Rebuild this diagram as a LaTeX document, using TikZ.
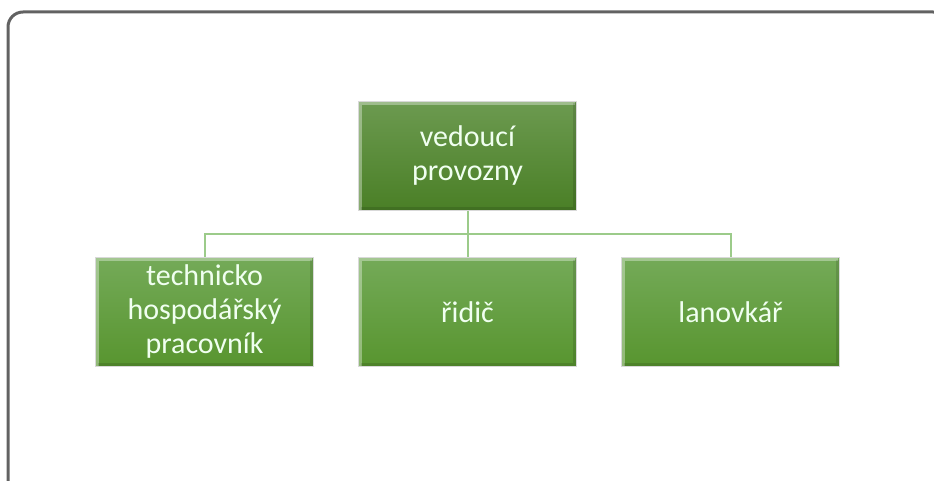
\documentclass[tikz,border=0pt]{standalone}
\usepackage{fontspec}
\setmainfont{Carlito}
\usetikzlibrary{positioning}
\definecolor{framegray}{HTML}{626262}
\definecolor{linkgreen}{HTML}{9CCB8A}
\definecolor{topA}{HTML}{6C9A50}
\definecolor{topB}{HTML}{4A7F26}
\definecolor{botA}{HTML}{74AA58}
\definecolor{botB}{HTML}{58952F}
\begin{document}
\begin{tikzpicture}[x=1pt,y=-1pt,
  orgbox/.style={minimum width=218pt,minimum height=109pt,inner sep=0pt,
    text=white!94!green,font=\fontsize{30}{34}\selectfont,align=center,
    draw=white!85!black,line width=0.6pt,
    path picture={
      \draw[white,opacity=0.35,line width=2.5pt]
        ([xshift=2pt,yshift=-2pt]path picture bounding box.south west) --
        ([xshift=2pt,yshift=-2pt]path picture bounding box.north west) --
        ([xshift=-2pt,yshift=-2pt]path picture bounding box.north east);
      \draw[black,opacity=0.12,line width=2.5pt]
        ([xshift=-2pt,yshift=-2pt]path picture bounding box.north east) --
        ([xshift=-2pt,yshift=2pt]path picture bounding box.south east) --
        ([xshift=2pt,yshift=2pt]path picture bounding box.south west);
    }},
  headbox/.style={orgbox,top color=topA,bottom color=topB},
  subbox/.style={orgbox,top color=botA,bottom color=botB},
  link/.style={draw=linkgreen,line width=2pt}]
\useasboundingbox (0,0) rectangle (934,481);
\begin{scope}
\clip (0,0) rectangle (934,481);
\draw[framegray,line width=3pt,rounded corners=15pt] (8,12) rectangle (948,494);
\end{scope}
\coordinate (bus) at (467.5,234);
\node[headbox] (head) at (467.5,156) {vedoucí\\provozny};
\node[subbox] (tech) at (204.5,312) {technicko\\hospodářský\\pracovník};
\node[subbox] (ridic) at (467.5,312) {řidič};
\node[subbox] (lan) at (730.5,312) {lanovkář};
\begin{scope}[on background layer/.style={}]
\draw[link] (head.south) -- (bus);
\draw[link] (tech.north) |- (bus) -| (lan.north);
\draw[link] (bus) -- (ridic.north);
\end{scope}
\end{tikzpicture}
\end{document}
